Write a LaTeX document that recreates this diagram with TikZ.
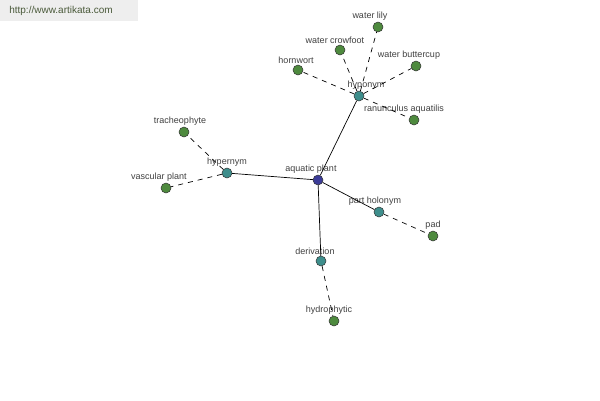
\documentclass[tikz,border=0pt]{standalone}
\usepackage{fontspec}
\setmainfont{Liberation Sans}
\usepackage{tikz}
\usetikzlibrary{arrows.meta,positioning}
\definecolor{leafgreen}{HTML}{4E8A3E}
\definecolor{reltea}{HTML}{3E8E8C}
\definecolor{rootblue}{HTML}{3C3C98}
\definecolor{webtext}{HTML}{4A5A3A}
\definecolor{bannergray}{HTML}{EEEEEE}

\begin{document}
\begin{tikzpicture}[
  x=1pt,y=-1pt,
  font=\fontsize{9}{10}\selectfont,
  dot/.style={circle,draw=black!80,line width=0.5pt,minimum size=10pt,inner sep=0pt},
  root/.style={dot,fill=rootblue},
  rel/.style={dot,fill=reltea},
  leaf/.style={dot,fill=leafgreen},
  lbl/.style={text=black!75,inner sep=0pt},
  link/.style={line width=0.7pt},
  sublink/.style={line width=0.7pt,dash pattern=on 5pt off 5pt}
]
\useasboundingbox (0,0) rectangle (600,400);
\fill[white] (0,0) rectangle (600,400);
\fill[bannergray] (0,0) rectangle (138,21);
\node[text=webtext,font=\fontsize{10}{11}\selectfont] (web) at (61,11) {http://www.artikata.com};

% root and relation nodes
\node[root,label={[lbl,label distance=1pt,xshift=-7pt]above:aquatic plant}] (AP) at (318,180) {};
\node[rel,label={[lbl,label distance=1pt,xshift=7pt]above:hyponym}] (Hypo) at (359,96) {};
\node[rel,label={[lbl,label distance=1pt]above:hypernym}] (Hyper) at (227,173) {};
\node[rel,label={[lbl,label distance=1pt,xshift=-4pt]above:part holonym}] (Part) at (379,212) {};
\node[rel,label={[lbl,label distance=1pt,xshift=-6pt]above:derivation}] (Deriv) at (321,261) {};

% leaves
\node[leaf,label={[lbl,label distance=1pt,xshift=-8pt]above:water lily}] (Lily) at (378,27) {};
\node[leaf,label={[lbl,label distance=1pt,xshift=-5pt]above:water crowfoot}] (Crow) at (340,50) {};
\node[leaf,label={[lbl,label distance=1pt,xshift=-2pt]above:hornwort}] (Horn) at (298,70) {};
\node[leaf,label={[lbl,label distance=1pt,xshift=-7pt]above:water buttercup}] (Butter) at (416,66) {};
\node[leaf,label={[lbl,label distance=1pt,xshift=-10pt]above:ranunculus aquatilis}] (Ranun) at (414,120) {};
\node[leaf,label={[lbl,label distance=1pt,xshift=-4pt]above:tracheophyte}] (Trach) at (184,132) {};
\node[leaf,label={[lbl,label distance=1pt,xshift=-7pt]above:vascular plant}] (Vasc) at (166,188) {};
\node[leaf,label={[lbl,label distance=1pt]above:pad}] (Pad) at (433,236) {};
\node[leaf,label={[lbl,label distance=1pt,xshift=-5pt]above:hydrophytic}] (Hydro) at (334,321) {};

\draw[link] (AP) -- (Hypo);
\draw[link] (AP) -- (Hyper);
\draw[link] (AP) -- (Part);
\draw[link] (AP) -- (Deriv);
\foreach \s in {Lily,Crow,Horn,Butter,Ranun}
  \draw[sublink] (Hypo) -- (\s);
\draw[sublink] (Hyper) -- (Trach);
\draw[sublink] (Hyper) -- (Vasc);
\draw[sublink] (Part) -- (Pad);
\draw[sublink] (Deriv) -- (Hydro);
\end{tikzpicture}
\end{document}
